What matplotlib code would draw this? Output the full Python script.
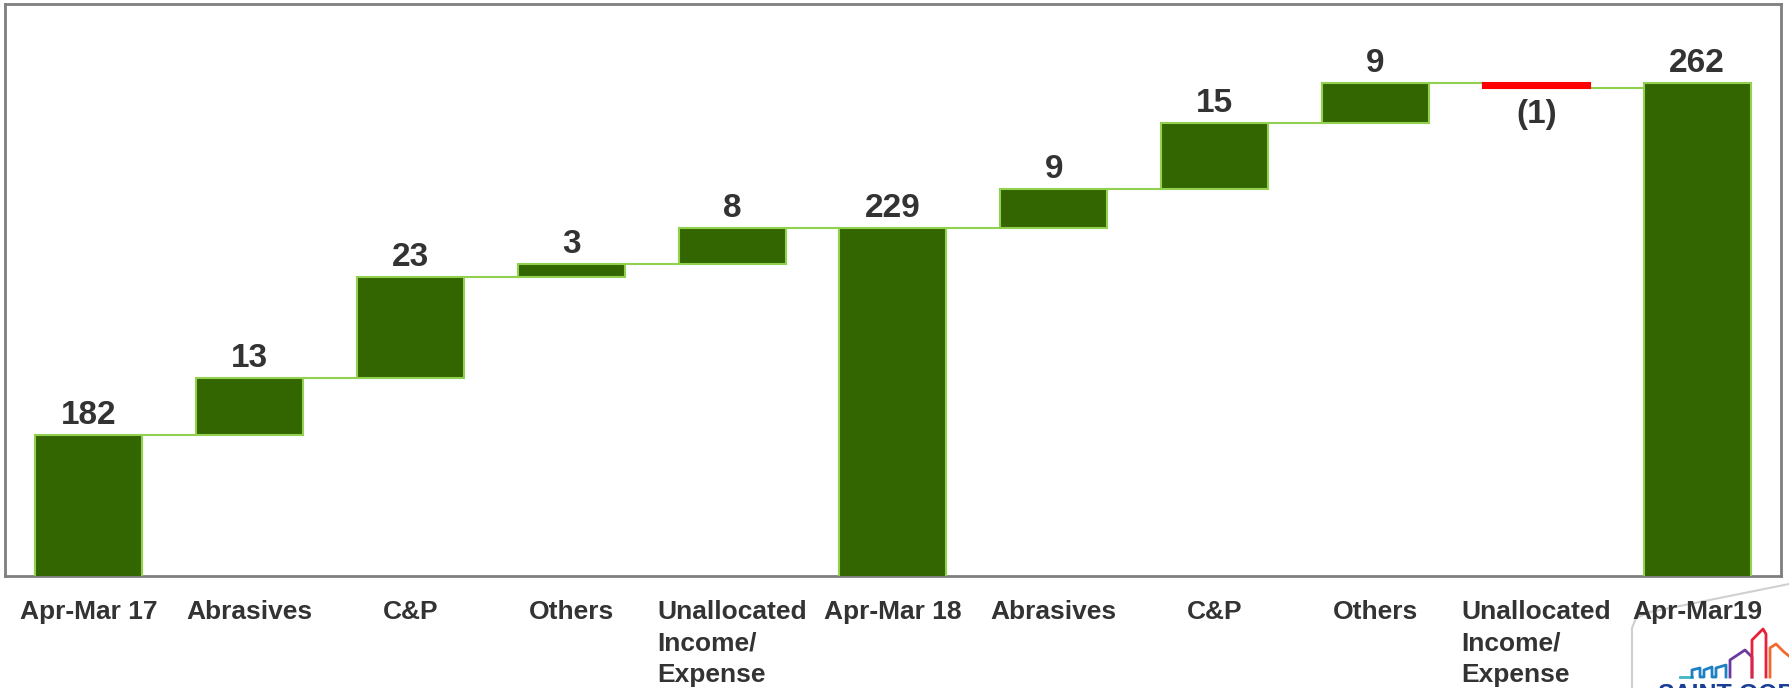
import matplotlib.pyplot as plt
import numpy as np

plt.rcParams['font.family'] = ['Liberation Sans', 'DejaVu Sans']

# waterfall data
categories = ['Apr-Mar 17', 'Abrasives', 'C&P', 'Others', 'Unallocated\nIncome/\nExpense',
              'Apr-Mar 18', 'Abrasives', 'C&P', 'Others', 'Unallocated\nIncome/\nExpense',
              'Apr-Mar19']
values = [182, 13, 23, 3, 8, 229, 9, 15, 9, -1, 262]
is_total = [True, False, False, False, False, True, False, False, False, False, True]

dark_green = '#336600'
light_green = '#92d050'
text_col = '#333333'

fig = plt.figure(figsize=(17.89, 6.88), dpi=100)
ax = fig.add_axes([0.0028, 0.1628, 0.9927, 0.8312])

x = np.arange(len(values))
bottoms = []
tops = []
running = 0
for v, tot in zip(values, is_total):
    if tot:
        running = v
        bottoms.append(0)
        tops.append(v)
    else:
        bottoms.append(running)
        running += v
        tops.append(running)
bottoms = np.array(bottoms)
tops = np.array(tops)
heights = tops - bottoms

width = 0.665
colors = ['red' if v < 0 else dark_green for v in values]
edges = ['red' if v < 0 else light_green for v in values]
ax.bar(x, heights, bottom=bottoms, width=width, color=colors,
       edgecolor=edges, linewidth=1.5, zorder=3)

# connector lines between bars
for i in range(len(values) - 1):
    level = tops[i]
    ax.plot([x[i] + width / 2, x[i + 1] - width / 2], [level, level],
            color=light_green, lw=1.5, zorder=2)

# value labels
for i, v in enumerate(values):
    if v < 0:
        ax.annotate(f'({abs(v)})', (x[i], min(tops[i], bottoms[i])),
                    xytext=(0, -8), textcoords='offset points',
                    ha='center', va='top', fontsize=24, fontweight='bold',
                    color=text_col)
    else:
        ax.annotate(f'{v}', (x[i], tops[i]), xytext=(0, 3),
                    textcoords='offset points', ha='center', va='bottom',
                    fontsize=24, fontweight='bold', color=text_col)

ax.set_xlim(-0.52, len(values) - 0.48)
ax.set_ylim(150, 280)
ax.set_yticks([])
ax.set_xticks(x)
ax.set_xticklabels(categories, fontsize=19, fontweight='bold', color=text_col,
                   linespacing=1.4, multialignment='left')
ax.tick_params(axis='x', length=0, pad=17)
for s in ax.spines.values():
    s.set_color('#7f7f7f')
    s.set_linewidth(2)

# partial company logo peeking in at the bottom right corner (pixel coords)
ov = fig.add_axes([0, 0, 1, 1], zorder=-1)
ov.set_xlim(0, 1789)
ov.set_ylim(688, 0)
ov.axis('off')
ov.plot([1632, 1632, 1636, 1650, 1789], [688, 628, 618, 612, 584],
        color='#d0d0d0', lw=1.5)
ov.plot([1680, 1692], [677, 677], color='#3fb6c2', lw=2)
ov.plot([1692, 1692, 1700, 1700, 1704, 1704, 1712, 1712, 1716, 1716, 1726, 1726],
        [677, 670, 668, 677, 677, 670, 667, 677, 677, 668, 665, 677],
        color='#1d7fc4', lw=2)
ov.plot([1730, 1730, 1745, 1752, 1752], [677, 660, 650, 657, 677],
        color='#6a3aa0', lw=2)
ov.plot([1752, 1752, 1763, 1766, 1766], [677, 640, 629, 634, 677],
        color='#e8203a', lw=2)
ov.plot([1770, 1770, 1776, 1784, 1789], [677, 648, 644, 652, 656],
        color='#f26a30', lw=2)
ov.text(1657, 683, 'SAINT-GOBAIN', color='#1a3e96', fontsize=18,
        fontweight='bold', va='top', ha='left', clip_on=True)

fig.savefig('out.png', dpi=100)
